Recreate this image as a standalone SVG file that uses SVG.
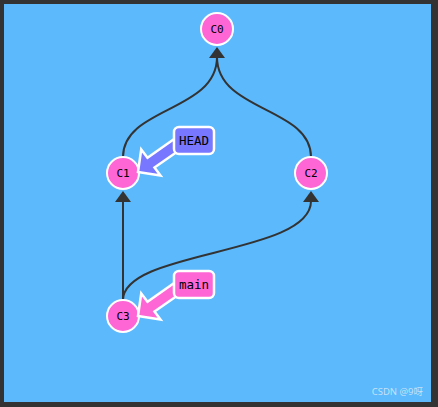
<svg xmlns="http://www.w3.org/2000/svg" width="438" height="407" viewBox="0 0 438 407">
<style>
.edge{fill:none;stroke:#333;stroke-width:2}
.ah{fill:#333}
.node{fill:#ff66d5;stroke:#fff;stroke-width:2}
.nt{font-family:"DejaVu Sans Mono",monospace;font-size:11px;fill:#000;text-anchor:middle;dominant-baseline:central}
.lt{font-family:"DejaVu Sans Mono",monospace;font-size:12.5px;fill:#000;text-anchor:middle;dominant-baseline:central}
.lbl{stroke:#fff;stroke-width:2.5;stroke-linejoin:miter}
</style>
<rect x="0" y="0" width="438" height="407" fill="#333"/>
<rect x="4" y="4" width="427" height="398" fill="#5cb9fc"/>
<g id="connectors">
<path class="edge" d="M123,157 C123,107 217,112 217,57"/>
<path class="edge" d="M311,157 C311,107 217,112 217,57"/>
<polygon class="ah" points="217,47 225,58 209,58"/>
<path class="edge" d="M123,300 L123,201"/>
<polygon class="ah" points="123,191 131,202 115,202"/>
<path class="edge" d="M123,300 C123,250 311,255 311,201"/>
<polygon class="ah" points="311,191 319,202 303,202"/>
</g>
<g id="C0"><circle class="node" cx="217" cy="29" r="16"/><text class="nt" x="217" y="29">C0</text></g>
<g id="C1"><circle class="node" cx="123" cy="173" r="16"/><text class="nt" x="123" y="173">C1</text></g>
<g id="C2"><circle class="node" cx="311" cy="173" r="16"/><text class="nt" x="311" y="173">C2</text></g>
<g id="C3"><circle class="node" cx="123" cy="316" r="16"/><text class="nt" x="123" y="316">C3</text></g>
<g id="HEAD">
<polygon class="lbl" fill="#7777ff" points="138,172 160.5,175.5 154.5,167.5 184,147 177,137 147.5,157.8 141.2,149.5"/>
<rect class="lbl" fill="#7777ff" x="174" y="127" width="40" height="27" rx="5"/>
<text class="lt" x="194" y="140.5">HEAD</text>
</g>
<g id="main">
<polygon class="lbl" fill="#ff66d5" points="138,316 160.5,319.5 154.5,311.5 184,291 177,281 147.5,301.8 141.2,293.5"/>
<rect class="lbl" fill="#ff66d5" x="174" y="271" width="40" height="27" rx="5"/>
<text class="lt" x="194" y="284.5">main</text>
</g>
<text x="423" y="395" font-family="'Noto Sans','Noto Sans CJK SC',sans-serif" font-size="9.5" fill="#dbe9f5" fill-opacity="0.85" text-anchor="end">CSDN @9呀</text>
</svg>
